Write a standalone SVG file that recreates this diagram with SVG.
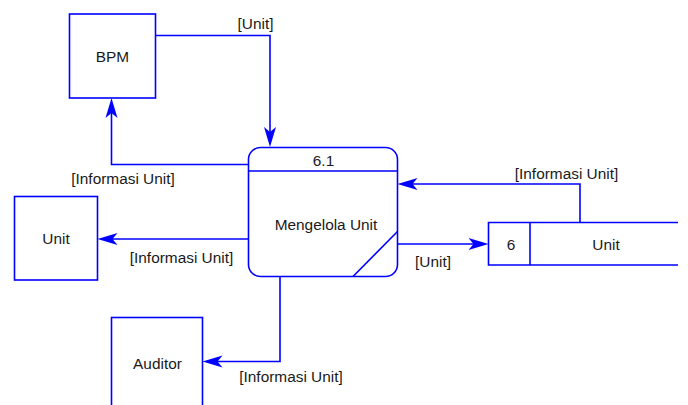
<svg xmlns="http://www.w3.org/2000/svg" width="688" height="405" viewBox="0 0 688 405">
<style>
.sh{fill:#ffffff;stroke:#0000ff;stroke-width:1.6}
.ln{fill:none;stroke:#0000ff;stroke-width:1.6}
.cn{fill:none;stroke:#0000ff;stroke-width:1.6;marker-end:url(#ah)}
text{font-family:"Liberation Sans",Arial,sans-serif;font-size:15.4px;fill:#1a1a1a;text-anchor:middle}
</style>
<defs>
<marker id="ah" viewBox="-8 -7 24 14" markerWidth="24" markerHeight="14" refX="0" refY="0" orient="auto" markerUnits="userSpaceOnUse" overflow="visible">
<path d="M14,0 L-6,-6 L-1,0 L-6,6 Z" fill="#0000ff"/>
</marker>
</defs>
<rect width="688" height="405" fill="#ffffff"/>
<g id="connectors">
<path class="cn" d="M155.5,35.5 H270 V133"/>
<path class="cn" d="M248.5,164.5 H111.5 V112"/>
<path class="cn" d="M248.5,239 H111.5"/>
<path class="cn" d="M397.5,244 H474.5"/>
<path class="cn" d="M580,222.5 V184 H411.5"/>
<path class="cn" d="M280,276.5 V361.5 H216.5"/>
<text x="255.5" y="29">[Unit]</text>
<text x="123" y="184">[Informasi Unit]</text>
<text x="181.5" y="262.5">[Informasi Unit]</text>
<text x="433" y="267">[Unit]</text>
<text x="566.5" y="179">[Informasi Unit]</text>
<text x="291" y="381.5">[Informasi Unit]</text>
</g>
<g id="bpm">
<rect class="sh" x="69.5" y="14" width="86" height="84"/>
<text x="112.5" y="62">BPM</text>
</g>
<g id="process">
<rect class="sh" x="248.5" y="147.5" width="149" height="129" rx="12" ry="12"/>
<path class="ln" d="M248.5,171 H397.5 M397.5,231.5 L353,276.5"/>
<text x="323.5" y="165.5">6.1</text>
<text x="326" y="230">Mengelola Unit</text>
</g>
<g id="unit">
<rect class="sh" x="14.5" y="196.5" width="83" height="83.5"/>
<text x="56" y="244">Unit</text>
</g>
<g id="store">
<path class="ln" d="M678,222.5 H488.5 V265 H678 M530,222.5 V265"/>
<text x="511" y="250">6</text>
<text x="606" y="250">Unit</text>
</g>
<g id="auditor">
<rect class="sh" x="111.5" y="317.5" width="91" height="100"/>
<text x="157.5" y="369">Auditor</text>
</g>
</svg>
